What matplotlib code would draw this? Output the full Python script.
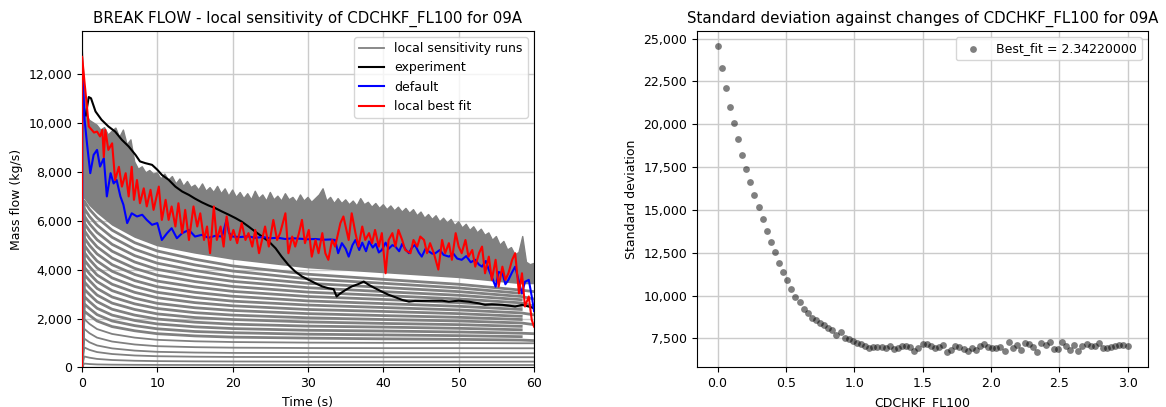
import numpy as np
import matplotlib.pyplot as plt
from matplotlib.ticker import FuncFormatter, MultipleLocator

# ---------------- left panel: break flow ----------------
# upper edge of the dense bundle of sensitivity runs, every 0.5 s
env_t = np.arange(0, 60.01, 0.5)
env_v = [13200, 10400, 10100, 10000, 9900, 9700, 9800, 9500, 9650, 9780,
         9400, 9700, 9100, 9300, 8400, 8100, 8200, 7950, 8050, 7900,
         7950, 7700, 7900, 7650, 7800, 7500, 7700, 7400, 7600, 7350,
         7450, 7250, 7500, 7200, 7350, 7150, 7400, 7100, 7300, 7000,
         7250, 6950, 7150, 6900, 7100, 6850, 7200, 6900, 7050, 6800,
         7150, 6850, 7000, 6800, 7100, 6850, 6950, 6750, 7050, 6800,
         6950, 6750, 6900, 7050, 7300, 6800, 6950, 6700, 6900, 6700,
         6850, 6650, 6800, 6600, 6900, 6650, 6750, 6550, 6700, 6500,
         6650, 6450, 6600, 6400, 6550, 6350, 6500, 6300, 6450, 6200,
         6350, 6100, 6250, 6050, 6200, 5950, 6100, 5900, 6050, 5800,
         5950, 5700, 5850, 5600, 5750, 5500, 5650, 5400, 5500, 5200,
         5350, 5000, 5150, 4800, 4900, 4600, 4700, 5350, 4300, 4200,
         4250]

# individual (lower) sensitivity runs at a few time knots
run_t = [0, 0.3, 1, 2, 4, 7, 10, 15, 20, 30, 40, 50, 58.3, 60]
band_low = [0, 6900, 6600, 6300, 5800, 5300, 4950, 4650, 4400, 4050, 3850, 3650, 3400, 3400]
nan = np.nan
runs = [
    [0, 160, 140, 125, 115, 108, 104, 102, 100, 100, 100, 100, 100, 100],
    [0, 450, 400, 350, 305, 275, 260, 250, 245, 240, 240, 240, 240, 240],
    [0, 820, 720, 630, 550, 490, 460, 440, 430, 425, 420, 420, 420, 420],
    [0, 1180, 1030, 900, 780, 690, 640, 610, 595, 585, 580, 580, 580, 580],
    [0, 1580, 1400, 1220, 1060, 940, 870, 830, 810, 795, 790, 790, 785, 785],
    [0, 1980, 1780, 1570, 1370, 1220, 1130, 1070, 1040, 1015, 1005, 1000, 990, 990],
    [0, 2300, 2130, 1900, 1670, 1500, 1380, 1290, 1240, 1200, 1170, 1150, 1120, 1100],
    [0, 2600, 2410, 2160, 1900, 1710, 1580, 1470, 1420, 1360, 1330, 1300, 1260, nan],
    [0, 2900, 2690, 2420, 2140, 1920, 1780, 1660, 1590, 1520, 1490, 1450, 1400, 1380],
    [0, 3200, 2980, 2690, 2380, 2140, 1980, 1850, 1770, 1690, 1650, 1600, 1540, nan],
    [0, 3500, 3260, 2960, 2630, 2370, 2190, 2040, 1960, 1860, 1800, 1750, 1680, nan],
    [0, 3800, 3550, 3230, 2880, 2600, 2410, 2240, 2140, 2030, 1960, 1900, 1820, 1750],
    [0, 4100, 3830, 3510, 3140, 2830, 2620, 2440, 2330, 2200, 2120, 2050, 1960, nan],
    [0, 4400, 4120, 3780, 3400, 3070, 2850, 2650, 2520, 2370, 2290, 2200, 2090, nan],
    [0, 4700, 4410, 4070, 3660, 3310, 3070, 2860, 2710, 2550, 2450, 2350, 2230, 2150],
    [0, 5000, 4700, 4350, 3930, 3550, 3300, 3070, 2910, 2720, 2610, 2500, 2370, nan],
    [0, 5300, 4990, 4640, 4200, 3800, 3530, 3290, 3110, 2900, 2780, 2650, 2500, nan],
    [0, 5600, 5280, 4930, 4470, 4050, 3770, 3510, 3310, 3080, 2940, 2800, 2640, 2500],
    [0, 5900, 5580, 5220, 4750, 4310, 4010, 3730, 3520, 3260, 3100, 2950, 2770, nan],
    [0, 6200, 5870, 5520, 5030, 4570, 4260, 3960, 3720, 3440, 3270, 3100, 2900, 2800],
    [0, 6500, 6170, 5820, 5320, 4830, 4510, 4190, 3940, 3620, 3440, 3250, 3030, nan],
    [0, 6800, 6460, 6120, 5610, 5100, 4760, 4420, 4150, 3810, 3600, 3400, 3160, 3100],
]

exp_t = [0.5, 0.9, 1.2, 1.8, 2.6, 3.5, 4.4, 5.3, 6.2, 7.1, 7.7, 8.4, 9.3, 10.0, 10.6,
         11.5, 12.4, 13.3, 14.2, 15.0, 15.9, 16.8, 17.7, 18.6, 19.5, 20.4, 21.2, 22.1,
         23.0, 23.9, 24.8, 25.7, 26.5, 27.4, 28.3, 29.2, 30.1, 31.0, 31.9, 32.7, 33.4,
         33.8, 34.3, 35.0, 35.8, 36.7, 37.4, 38.1, 38.9, 39.8, 40.7, 41.6, 42.5, 43.4,
         44.2, 45.1, 46.5, 47.8, 48.7, 50.0, 51.3, 52.7, 53.5, 54.4, 55.8, 56.6, 57.5,
         58.4, 59.3, 60.0]
exp_v = [10300, 11050, 11000, 10460, 10120, 9850, 9640, 9300, 9030, 8690, 8420, 8350,
         8280, 8080, 7870, 7670, 7390, 7190, 7050, 6900, 6750, 6620, 6510, 6370, 6240,
         6100, 5960, 5760, 5550, 5350, 5150, 4870, 4530, 4190, 3920, 3720, 3580, 3440,
         3310, 3240, 3200, 2900, 3030, 3170, 3310, 3410, 3510, 3370, 3240, 3100, 2970,
         2870, 2760, 2690, 2720, 2720, 2730, 2730, 2690, 2730, 2690, 2620, 2560, 2580,
         2560, 2530, 2490, 2560, 2490, 2420]

def_t = [0, 0.05, 0.35, 0.66, 1.1, 1.55, 2.0, 2.4, 2.9, 3.3, 3.8, 4.2, 4.6, 5.1, 5.5,
         6.0, 6.6, 7.3, 8.0, 8.6, 9.3, 10.0, 10.6, 11.3, 11.9, 12.6, 13.3, 14.2, 15.0,
         15.9, 16.8, 17.7, 18.6, 19.2, 19.5, 20.0, 21, 22, 23, 24, 25, 26, 27, 28, 29,
         30, 31, 32, 33, 33.6, 34.0, 34.5, 35.0, 35.4, 35.9, 36.3, 36.8, 37.2, 37.7,
         38.1, 38.6, 39.0, 39.4, 39.8, 40.3, 40.7, 41.2, 41.6, 42.1, 42.5, 43.0, 43.4,
         43.8, 44.2, 44.7, 45.1, 45.6, 46.0, 46.5, 46.9, 47.5, 48.0, 48.7, 49.3, 49.8,
         50.4, 51.0, 51.6, 52.2, 52.7, 53.1, 53.6, 54.0, 54.4, 54.9, 55.3, 55.8, 56.2,
         56.6, 57.1, 57.5, 58.0, 58.4, 58.8, 59.3, 59.7, 60.0]
def_v = [0, 12300, 10120, 9170, 7940, 8690, 8890, 8210, 8550, 6990, 7940, 7520, 7660,
         6990, 6650, 5900, 6300, 6170, 6240, 6030, 5830, 5900, 5210, 5490, 5690, 5280,
         5490, 5620, 5350, 5420, 5300, 5380, 5350, 6050, 5500, 5350, 5330, 5360, 5300,
         5330, 5280, 5300, 5250, 5280, 5260, 5240, 5250, 5220, 5230, 5210, 4670, 5080,
         4850, 4530, 5000, 5210, 4800, 5100, 4750, 5150, 4900, 5050, 4700, 4800, 5100,
         4850, 5000, 4940, 4750, 5050, 4800, 4670, 4900, 5010, 4700, 4530, 4850, 4750,
         4650, 4670, 4800, 4600, 4530, 4650, 4450, 4400, 4550, 4300, 4400, 4200, 4120,
         4350, 3990, 3700, 3300, 3900, 3850, 3400, 3580, 3900, 4120, 3500, 3030, 3500,
         3580, 2900, 2300]

fit_t = [0, 0.02, 0.35, 0.66, 0.9, 1.3, 1.6, 2.0, 2.4, 2.7, 2.9, 3.1, 3.5, 4.0, 4.4,
         4.9, 5.3, 5.8, 6.2, 6.6, 6.9, 7.3, 7.7, 8.2, 8.6, 9.1, 9.5, 10.2, 10.6, 11.1,
         11.5, 11.9, 12.4, 12.8, 13.3, 13.7, 14.2, 14.8, 15.3, 15.7, 16.2, 16.6, 17.0,
         17.5, 17.9, 18.4, 18.8, 19.2, 19.7, 20.1, 20.6, 21.2, 21.7, 22.1, 22.6, 23.0,
         23.5, 23.9, 24.3, 24.8, 25.4, 25.9, 26.3, 27.0, 27.4, 27.9, 28.3, 28.8, 29.2,
         29.6, 30.1, 30.5, 31.0, 31.4, 31.9, 32.3, 32.7, 33.2, 33.6, 34.3, 34.7, 35.0,
         35.4, 35.8, 36.3, 36.7, 37.2, 37.6, 38.1, 38.5, 38.9, 39.4, 39.8, 40.3, 40.7,
         41.2, 41.6, 42.0, 42.5, 42.9, 43.6, 44.0, 44.5, 44.9, 45.4, 45.8, 46.2, 46.7,
         47.3, 47.8, 48.2, 48.7, 49.1, 49.6, 50.0, 50.4, 50.9, 51.3, 51.8, 52.2, 52.7,
         53.1, 53.5, 54.0, 54.4, 54.9, 55.3, 55.8, 56.2, 56.6, 57.1, 57.5, 58.0, 58.4,
         58.8, 59.3, 59.7, 60.0]
fit_v = [0, 12700, 11620, 10670, 9850, 9710, 9600, 9640, 9440, 9710, 8600, 9710, 8890,
         9160, 7660, 8200, 7390, 7940, 6990, 8200, 6850, 7660, 6710, 7320, 6580, 7260,
         6440, 7390, 6030, 6850, 6030, 6580, 5760, 6710, 5490, 6440, 5210, 6580, 5760,
         6300, 5210, 5760, 4670, 6580, 5210, 5760, 4940, 6170, 5210, 5620, 5080, 5900,
         5210, 5490, 4940, 5620, 4670, 5210, 5760, 4940, 6030, 5210, 5490, 6300, 4670,
         5350, 4940, 5490, 6030, 5080, 5620, 4530, 5210, 4670, 5490, 4670, 4400, 5210,
         4940, 5900, 6170, 5760, 5210, 6300, 5490, 4940, 5760, 5210, 5490, 5080, 5620,
         4940, 5490, 3850, 5210, 5490, 4940, 5620, 5210, 4800, 4670, 5210, 4940, 5350,
         5210, 4670, 5080, 4670, 4000, 5210, 4670, 5080, 4400, 5490, 4940, 4670, 5210,
         4530, 4800, 4120, 4670, 4940, 3850, 4530, 3580, 4400, 3300, 4120, 3580, 3850,
         4400, 4670, 3030, 3850, 2490, 2900, 1940, 1670]

# ---------------- right panel: standard deviation vs parameter ----------------
params = np.linspace(0, 3, 101)
stdev = [24550, 23290, 22120, 21030, 20060, 19130, 18230, 17410, 16630, 15880,
         15150, 14450, 13750, 13130, 12540, 11920, 11380, 10890, 10400, 9900,
         9620, 9200, 8960, 8690, 8560, 8400, 8260, 8120, 8000, 7720,
         7870, 7520, 7450, 7380, 7250, 7150, 7050, 6950, 6980, 7000,
         7000, 6920, 7040, 6900, 6960, 7080, 7050, 7030, 6760, 6950,
         7200, 7150, 7050, 6970, 7020, 7120, 6700, 6850, 7080, 7000,
         6880, 6760, 6950, 6820, 7080, 7180, 6980, 6950, 6960, 6980,
         6760, 7300, 6960, 7100, 6800, 7250, 7200, 6980, 6700, 7250,
         7100, 7280, 6900, 6900, 7300, 7080, 6850, 7100, 6750, 7080,
         7200, 7050, 7080, 7220, 6920, 6950, 6980, 7060, 7100, 7100,
         7080]
best_fit = 2.3422

comma = FuncFormatter(lambda v, p: '{:,.0f}'.format(v))
grid_col = '#cbcbcb'

fig = plt.figure(figsize=(11.66, 4.07), dpi=100)
ax1 = fig.add_axes([0.0703, 0.0971, 0.3877, 0.8268])
ax2 = fig.add_axes([0.5978, 0.0971, 0.3868, 0.8268])

# dense part of the run bundle
poly_t = np.concatenate([env_t, np.array(run_t)[::-1]])
poly_v = np.concatenate([env_v, np.array(band_low)[::-1]])
ax1.fill(poly_t, poly_v, color='gray', lw=0, zorder=2)
ax1.plot(env_t, env_v, color='gray', lw=1.0, zorder=2)
for i, row in enumerate(runs):
    ax1.plot(run_t, row, color='gray', lw=1.3 if i < 6 else 2.0, zorder=2,
             label='local sensitivity runs' if i == 0 else None)

ax1.plot(exp_t, exp_v, color='k', lw=1.5, zorder=3, label='experiment')
ax1.plot(def_t, def_v, color='b', lw=1.5, zorder=4, label='default')
ax1.plot(fit_t, fit_v, color='r', lw=1.5, zorder=5, label='local best fit')

ax1.set_xlim(0, 60)
ax1.set_ylim(0, 13750)
ax1.yaxis.set_major_locator(MultipleLocator(2000))
ax1.yaxis.set_major_formatter(comma)
ax1.grid(True, color=grid_col, lw=1.0, zorder=0)
ax1.set_axisbelow(True)
ax1.set_title('BREAK FLOW - local sensitivity of CDCHKF_FL100 for 09A', fontsize=10.8)
ax1.set_xlabel('Time (s)', fontsize=9)
ax1.set_ylabel('Mass flow (kg/s)', fontsize=9)
ax1.tick_params(labelsize=9)
ax1.legend(loc='upper right', fontsize=9)

ax2.scatter(params, stdev, s=24, color='k', alpha=0.5, lw=0,
            label='Best_fit = {:.8f}'.format(best_fit))
ax2.yaxis.set_major_locator(MultipleLocator(2500))
ax2.yaxis.set_major_formatter(comma)
ax2.grid(True, color=grid_col, lw=1.0)
ax2.set_axisbelow(True)
ax2.set_title('Standard deviation against changes of CDCHKF_FL100 for 09A', fontsize=10.8)
ax2.set_xlabel('CDCHKF_FL100', fontsize=9)
ax2.set_ylabel('Standard deviation', fontsize=9)
ax2.tick_params(labelsize=9)
ax2.legend(loc='upper right', fontsize=9)

fig.savefig('out.png', dpi=100)
